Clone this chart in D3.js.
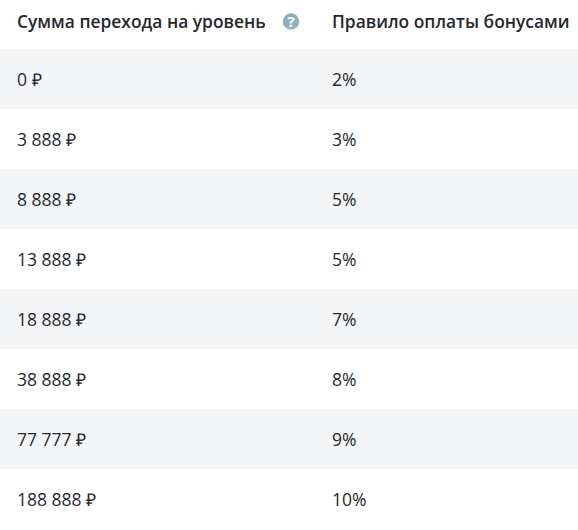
<!DOCTYPE html>
<html><head><meta charset="utf-8">
<script src="https://cdn.jsdelivr.net/npm/d3@7"></script>
<style>html,body{margin:0;padding:0;background:#fff;overflow:hidden}svg{display:block}text{font-family:"Open Sans",sans-serif;fill:#26292d}</style>
</head><body><svg id="c" width="578" height="530"></svg>
<script>
const headers=["Сумма перехода на уровень","Правило оплаты бонусами"];
const amounts=["0 ₽","3 888 ₽","8 888 ₽","13 888 ₽","18 888 ₽","38 888 ₽","77 777 ₽","188 888 ₽"];
const rates=["2%","3%","5%","5%","7%","8%","9%","10%"];
const svg=d3.select("#c");
const y=d3.scaleBand().domain(d3.range(amounts.length)).range([49,529]);
const x=d3.scaleOrdinal().domain([0,1]).range([17,332]);
svg.selectAll("rect.row").data(amounts).join("rect").attr("class","row")
 .attr("x",0).attr("width",578).attr("y",(d,i)=>y(i)).attr("height",y.bandwidth())
 .attr("fill",(d,i)=>i%2===0?"#f4f5f7":"#fff");
svg.selectAll("text.h").data(headers).join("text").attr("class","h")
 .attr("x",(d,i)=>x(i)).attr("y",28).attr("font-size",17.4).attr("font-weight",600).text(d=>d);
svg.selectAll("text.a").data(amounts).join("text").attr("class","a")
 .attr("x",x(0)).attr("y",(d,i)=>y(i)+y.bandwidth()/2+6.5).attr("font-size",17.5).text(d=>d);
svg.selectAll("text.r").data(rates).join("text").attr("class","r")
 .attr("x",x(1)).attr("y",(d,i)=>y(i)+y.bandwidth()/2+6.5).attr("font-size",17.5).text(d=>d);
svg.append("circle").attr("cx",291).attr("cy",21.5).attr("r",8.3).attr("fill","#8fb0bd");
svg.append("text").attr("x",291).attr("y",27).attr("text-anchor","middle").attr("font-size",15).attr("font-weight",700).style("fill","#fff").text("?");
</script></body></html>
